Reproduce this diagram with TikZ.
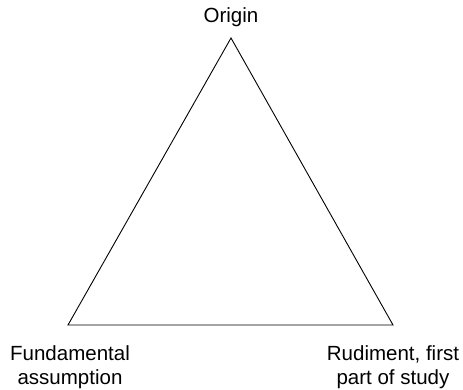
\documentclass[tikz,border=0pt]{standalone}
\usepackage{fontspec}
\setmainfont{Liberation Sans}
\begin{document}
\begin{tikzpicture}[x=1pt,y=-1pt,
  lbl/.style={font=\fontsize{20.5}{24}\selectfont, align=center, inner sep=0pt, anchor=base},
  edge/.style={draw=black, line width=0.9pt, line join=miter}]
  \useasboundingbox (0,0) rectangle (463,390);
  % vertices
  \coordinate (top) at (231,38);
  \coordinate (left) at (68,325);
  \coordinate (right) at (393,325);
  % triangle
  \draw[edge] (top) -- (left) -- (right) -- cycle;
  % labels (base anchor sits on the last line's baseline)
  \node[lbl] (origin) at (231,23) {Origin};
  \node[lbl] (fund) at (70,384) {Fundamental\\assumption};
  \node[lbl] (rud) at (393,384) {Rudiment, first\\part of study};
\end{tikzpicture}
\end{document}
